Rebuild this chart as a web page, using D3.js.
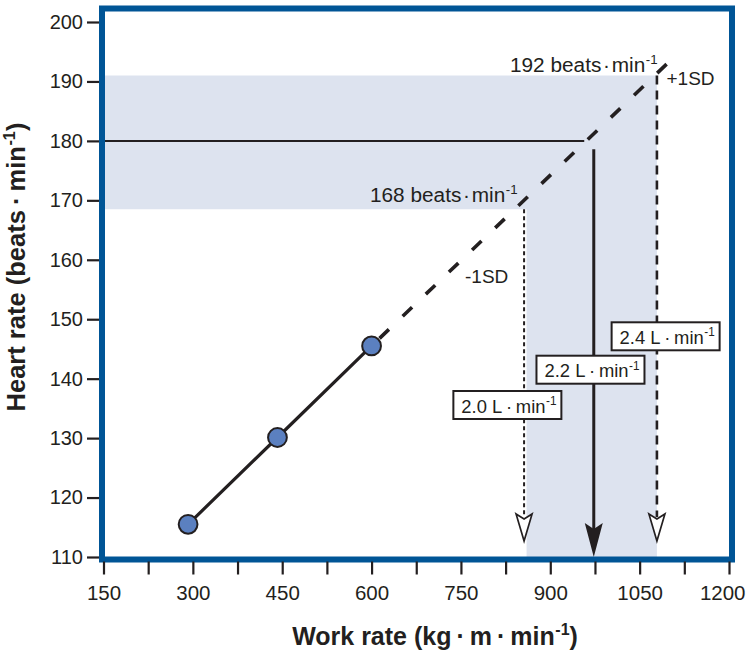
<!DOCTYPE html>
<html><head><meta charset="utf-8">
<script src="https://cdn.jsdelivr.net/npm/d3@7"></script>
<style>html,body{margin:0;padding:0;background:#fff;} svg{display:block;}</style>
</head><body>
<svg id="chart" width="746" height="654"></svg>
<script>
// ---- data ----
const workRates = [292, 442, 600];          // kg·m·min-1
const heartRates = [115.5, 130.1, 145.5];    // beats·min-1
const xTickValues = [150,225,300,375,450,525,600,675,750,825,900,975,1050,1125,1200];
const xTickLabels = ["150","300","450","600","750","900","1050","1200"];
const yTickValues = [110,120,130,140,150,160,170,180,190,200];
const maxHR = 180;
const hrBand = [168.5, 191];                 // -1SD, +1SD
const hrBandLabels = ["168", "192"];
const extrapolationEnd = [1115, 194.8];
const predictedWork = [856, 973, 1079];      // -1SD, mean, +1SD
const predictedVO2 = ["2.0", "2.2", "2.4"];
const sdLabels = ["-1SD", "+1SD"];

// ---- styles ----
const ink = "#231f20", frameBlue = "#005596", shade = "#dde3ef", dotFill = "#5b80c0";
const FONT = "'Liberation Sans', Arial, Helvetica, sans-serif";

const svg = d3.select("#chart");
const x = d3.scaleLinear().domain([150, 1200]).range([103.5, 729]);
const y = d3.scaleLinear().domain([110, 200]).range([557, 22]);

const frame = {left: 102, right: 732, top: 8.5, bottom: 559.5};

function addText(parent, px, py, main, sup, tail, o) {
  const g = parent.append("g").attr("transform", `translate(${px},${py})` + (o.rotate ? ` rotate(${o.rotate})` : "") + ` scale(${o.sx || 1},1)`);
  const t = g.append("text").attr("x", 0).attr("y", 0)
    .attr("font-family", FONT).attr("font-size", o.size).attr("fill", ink)
    .attr("font-weight", o.weight || "normal")
    .attr("text-anchor", o.anchor || "start");
  t.append("tspan").text(main);
  if (sup) t.append("tspan").attr("font-size", o.size * 0.64).attr("dy", -o.size * 0.4).attr("dx", 0.5).text(sup);
  if (tail) t.append("tspan").attr("font-size", o.size).attr("dy", o.size * 0.4).text(tail);
  return g;
}

// ---- shaded bands ----
const xLo = x(predictedWork[0]) + 2.5, xHi = x(predictedWork[2]);
svg.append("path")
  .attr("d", `M${frame.left},${y(hrBand[1])} H${xHi} V${frame.bottom} H${xLo} V${y(hrBand[0])} H${frame.left} Z`)
  .attr("fill", shade);

// ---- horizontal max HR line ----
svg.append("line").attr("x1", frame.left).attr("x2", x(957)).attr("y1", y(maxHR)).attr("y2", y(maxHR))
  .attr("stroke", ink).attr("stroke-width", 2);

// ---- vertical arrows ----
const headTop = 514, headTip = 541;
// -1SD
svg.append("line").attr("x1", x(predictedWork[0])).attr("x2", x(predictedWork[0]))
  .attr("y1", y(hrBand[0])).attr("y2", headTop + 3)
  .attr("stroke", ink).attr("stroke-width", 2).attr("stroke-dasharray", "4,3");
// +1SD
svg.append("line").attr("x1", x(predictedWork[2])).attr("x2", x(predictedWork[2]))
  .attr("y1", y(hrBand[1])).attr("y2", headTop + 3)
  .attr("stroke", ink).attr("stroke-width", 2.6).attr("stroke-dasharray", "9,6");
[predictedWork[0], predictedWork[2]].forEach(v => {
  const cx = x(v);
  svg.append("path").attr("d", `M${cx-8},${headTop} L${cx},${headTop+5} L${cx+8},${headTop} L${cx},${headTip} Z`)
    .attr("fill", "#fff").attr("stroke", ink).attr("stroke-width", 1.7).attr("stroke-linejoin", "miter");
});
// mean (solid)
const mx = x(predictedWork[1]);
svg.append("line").attr("x1", mx).attr("x2", mx).attr("y1", y(178.6)).attr("y2", 530)
  .attr("stroke", ink).attr("stroke-width", 3);
svg.append("path").attr("d", `M${mx-9},${523} L${mx},${529} L${mx+9},${523} L${mx},${y(110)} Z`)
  .attr("fill", ink);

// ---- regression line ----
const pts = workRates.map((w, i) => [x(w), y(heartRates[i])]);
svg.append("path").attr("d", d3.line()(pts)).attr("fill", "none").attr("stroke", ink).attr("stroke-width", 3.2);
svg.append("line")
  .attr("x1", x(workRates[2])).attr("y1", y(heartRates[2]))
  .attr("x2", x(extrapolationEnd[0])).attr("y2", y(extrapolationEnd[1]))
  .attr("stroke", ink).attr("stroke-width", 3.6).attr("stroke-dasharray", "0,11,13,8");
svg.selectAll("circle.pt").data(pts).enter().append("circle").attr("class", "pt")
  .attr("cx", d => d[0]).attr("cy", d => d[1]).attr("r", 9.4)
  .attr("fill", dotFill).attr("stroke", ink).attr("stroke-width", 2);

// ---- labeled boxes ----
const boxes = [
  {v: 0, dx: -70.7, top: 391},
  {v: 1, dx: -57.3, top: 355.7},
  {v: 2, dx: -45.3, top: 322.3}
];
boxes.forEach(b => {
  const left = x(predictedWork[b.v]) + b.dx;
  svg.append("rect").attr("x", left).attr("y", b.top).attr("width", 108).attr("height", 28)
    .attr("fill", "#fff").attr("stroke", ink).attr("stroke-width", 2);
  addText(svg, left + 8, b.top + 21.5, predictedVO2[b.v] + " L\u2009·\u2009min", "-1", null, {size: 19, sx: 0.97});
});

// ---- HR labels ----
addText(svg, 510, 71.7, hrBandLabels[1] + " beats\u200a·\u200amin", "-1", null, {size: 20, sx: 1.04});
addText(svg, 370, 201.7, hrBandLabels[0] + " beats\u200a·\u200amin", "-1", null, {size: 20, sx: 1.04});
addText(svg, 666.5, 85, sdLabels[1], null, null, {size: 19});
addText(svg, 465, 283.3, sdLabels[0], null, null, {size: 19});

// ---- frame ----
svg.append("rect").attr("x", frame.left).attr("y", frame.top)
  .attr("width", frame.right - frame.left).attr("height", frame.bottom - frame.top)
  .attr("fill", "none").attr("stroke", frameBlue).attr("stroke-width", 6);

// ---- axes ----
const yAxis = d3.axisLeft(y).tickValues(yTickValues).tickSize(12).tickPadding(4).tickFormat(d3.format("d"));
const gy = svg.append("g").attr("transform", `translate(99,0)`).call(yAxis);
gy.select(".domain").remove();
gy.selectAll(".tick line").attr("stroke", ink).attr("stroke-width", 2.2);
gy.selectAll(".tick text").attr("font-family", FONT).attr("font-size", 20).attr("fill", ink);

const xAxis = d3.axisBottom(x).tickValues(xTickValues).tickSize(13).tickPadding(11)
  .tickFormat(d => xTickLabels.includes(String(d)) ? String(d) : "");
const gx = svg.append("g").attr("transform", `translate(0,561.5)`).call(xAxis);
gx.select(".domain").remove();
gx.selectAll(".tick line").attr("stroke", ink).attr("stroke-width", 2.2);
gx.selectAll(".tick text").attr("font-family", FONT).attr("font-size", 20.5).attr("fill", ink);
gx.selectAll(".tick").filter(d => d === 1200).select("text").attr("text-anchor", "end").attr("x", 16);

// ---- axis titles ----
addText(svg, 435, 645, "Work rate (kg\u2009·\u2009m\u2009·\u2009min", "-1", ")", {size: 25, weight: "bold", anchor: "middle", sx: 1.0});
addText(svg, 25, 267, "Heart rate (beats\u2009·\u2009min", "-1", ")", {size: 25.5, weight: "bold", anchor: "middle", rotate: -90});
</script>
</body></html>
